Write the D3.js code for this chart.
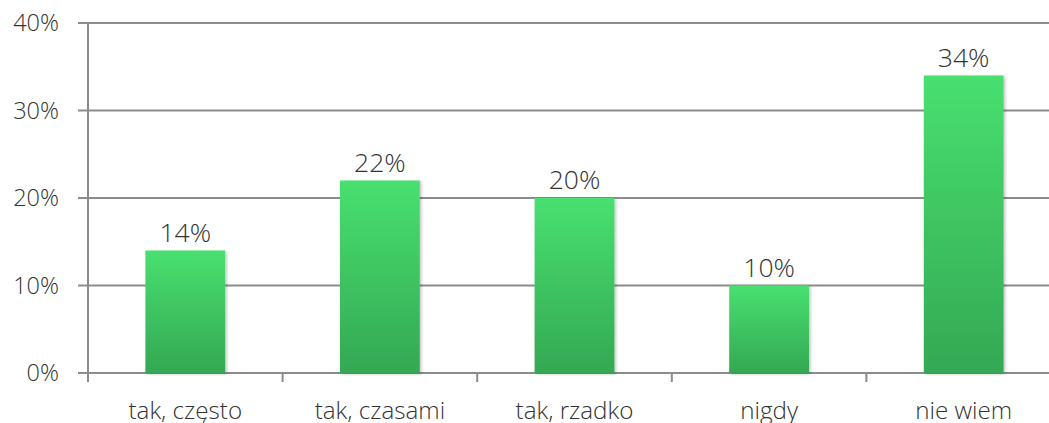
<!DOCTYPE html>
<html><head><meta charset="utf-8">
<script src="https://cdn.jsdelivr.net/npm/d3@7"></script>
<style>
body{margin:0;background:#fff;}
text{font-family:"Open Sans",sans-serif;font-weight:300;fill:#333;}
</style></head><body>
<svg id="c" width="1049" height="423"></svg>
<script>
const categories = ["tak, często","tak, czasami","tak, rzadko","nigdy","nie wiem"];
const values = [14,22,20,10,34];
const yTicks = [0,10,20,30,40];

(function(){
const svg = d3.select("#c");
const mLeft = 88, mRight = 1061, mTop = 23, mBottom = 373;
const x = d3.scaleBand().domain(categories).range([mLeft, mRight]).paddingInner(0.59).paddingOuter(0.295);
const xb = d3.scaleBand().domain(categories).range([mLeft, mRight]);
const y = d3.scaleLinear().domain([0,40]).range([mBottom, mTop]);

const defs = svg.append("defs");
const g = defs.append("linearGradient").attr("id","gr").attr("x1",0).attr("y1",0).attr("x2",0).attr("y2",1);
g.append("stop").attr("offset","0%").attr("stop-color","#48e070");
g.append("stop").attr("offset","100%").attr("stop-color","#34a853");
const f = defs.append("filter").attr("id","sh").attr("x","-10%").attr("y","-10%").attr("width","130%").attr("height","130%");
f.append("feDropShadow").attr("dx",1.5).attr("dy",1).attr("stdDeviation",1.5).attr("flood-color","#000").attr("flood-opacity",0.25);

svg.append("g").selectAll("line").data(yTicks).join("line")
  .attr("x1", mLeft-10).attr("x2", 1049)
  .attr("y1", d=>y(d)).attr("y2", d=>y(d))
  .attr("stroke","#8c8c8c").attr("stroke-width",2);

svg.append("g").selectAll("text").data(yTicks).join("text")
  .attr("x", 59).attr("y", d=>y(d)).attr("dy","0.36em")
  .attr("text-anchor","end").attr("font-size",23.5)
  .text(d=>d+"%");

svg.append("line").attr("x1",mLeft).attr("x2",mLeft).attr("y1",mTop).attr("y2",mBottom+9)
  .attr("stroke","#8c8c8c").attr("stroke-width",2);

svg.append("g").selectAll("line").data(categories.slice(1)).join("line")
  .attr("x1", d=>xb(d)).attr("x2", d=>xb(d))
  .attr("y1", mBottom).attr("y2", mBottom+9)
  .attr("stroke","#8c8c8c").attr("stroke-width",2);

svg.append("g").selectAll("rect").data(values).join("rect")
  .attr("x",(d,i)=>x(categories[i])).attr("width",x.bandwidth())
  .attr("y",d=>y(d)).attr("height",d=>mBottom-y(d))
  .attr("fill","url(#gr)").attr("filter","url(#sh)");

svg.append("g").selectAll("text").data(values).join("text")
  .attr("x",(d,i)=>x(categories[i])+x.bandwidth()/2).attr("y",d=>y(d)-9)
  .attr("text-anchor","middle").attr("font-size",26.5)
  .text(d=>d+"%");

svg.append("g").selectAll("text").data(categories).join("text")
  .attr("x",d=>xb(d)+xb.bandwidth()/2).attr("y",419)
  .attr("text-anchor","middle").attr("font-size",24.2)
  .text(d=>d);
})();
</script></body></html>
